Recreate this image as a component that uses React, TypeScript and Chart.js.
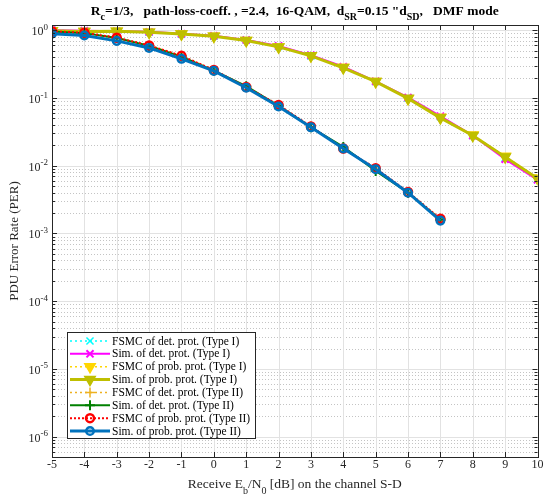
import React, { useEffect, useRef } from 'react';
import { Chart, registerables } from 'chart.js';

Chart.register(...registerables);

// ---------- data ----------
const ebn0TypeI = [-5, -4, -3, -2, -1, 0, 1, 2, 3, 4, 5, 6, 7, 8, 9, 10];
const ebn0TypeII = [-5, -4, -3, -2, -1, 0, 1, 2, 3, 4, 5, 6, 7];

const fsmcDetTypeI = [1.0, 0.98, 0.97, 0.94, 0.88, 0.82, 0.72, 0.58, 0.42, 0.29, 0.176, 0.1, 0.053, 0.028, 0.013, 0.0063];
const simDetTypeI = [1.0, 0.99, 0.97, 0.95, 0.89, 0.83, 0.72, 0.59, 0.43, 0.29, 0.177, 0.102, 0.054, 0.028, 0.0125, 0.0062];
const fsmcProbTypeI = [0.99, 0.96, 0.97, 0.94, 0.88, 0.82, 0.71, 0.57, 0.42, 0.285, 0.175, 0.098, 0.052, 0.0285, 0.0138, 0.0066];
const simProbTypeI = [0.99, 0.96, 0.97, 0.94, 0.88, 0.82, 0.71, 0.57, 0.42, 0.28, 0.175, 0.099, 0.051, 0.028, 0.0135, 0.0065];

const fsmcDetTypeII = [0.97, 0.92, 0.78, 0.6, 0.42, 0.26, 0.146, 0.078, 0.038, 0.018, 0.009, 0.0041, 0.00165];
const simDetTypeII = [0.96, 0.91, 0.77, 0.59, 0.41, 0.255, 0.15, 0.077, 0.037, 0.019, 0.0084, 0.004, 0.0016];
const fsmcProbTypeII = [0.97, 0.92, 0.78, 0.6, 0.42, 0.26, 0.146, 0.079, 0.038, 0.018, 0.0092, 0.0041, 0.00165];
const simProbTypeII = [0.89, 0.84, 0.7, 0.55, 0.38, 0.252, 0.142, 0.075, 0.037, 0.018, 0.0089, 0.004, 0.00155];

const seriesLabels = [
  'FSMC of det. prot. (Type I)',
  'Sim. of det. prot. (Type I)',
  'FSMC of prob. prot. (Type I)',
  'Sim. of prob. prot. (Type I)',
  'FSMC of det. prot. (Type II)',
  'Sim. of det. prot. (Type II)',
  'FSMC of prob. prot. (Type II)',
  'Sim. of prob. prot. (Type II)',
];

const xTickValues = [-5, -4, -3, -2, -1, 0, 1, 2, 3, 4, 5, 6, 7, 8, 9, 10];
const yDecadeExponents = [-6, -5, -4, -3, -2, -1, 0];

const yAxisTitle = 'PDU Error Rate (PER)';

type Seg = { t: string; sub?: boolean; sup?: boolean };
const titleSegs: Seg[] = [
  { t: 'R' }, { t: 'c', sub: true },
  { t: '=1/3,   path-loss-coeff. , =2.4,  16-QAM,  d' }, { t: 'SR', sub: true },
  { t: '=0.15 "d' }, { t: 'SD', sub: true },
  { t: ',   DMF mode' },
];
const xTitleSegs: Seg[] = [
  { t: 'Receive E' }, { t: 'b', sub: true }, { t: '/N' }, { t: '0', sub: true },
  { t: ' [dB] on the channel S-D' },
];

// ---------- styles ----------
const FONT = '"Liberation Serif", "Times New Roman", serif';
const AXIS = '#262626';

const seriesStyles = [
  { color: '#00ffff', dash: [2, 3], width: 1.5, point: 'crossRot', radius: 5, rot: 0, fill: false, pw: 1.5 },
  { color: '#ff00ff', dash: [], width: 2, point: 'crossRot', radius: 5, rot: 0, fill: false, pw: 2 },
  { color: '#ffd600', dash: [2, 3], width: 1.5, point: 'triangle', radius: 6, rot: 180, fill: true, pw: 1.5 },
  { color: '#bfbf00', dash: [], width: 3, point: 'triangle', radius: 6, rot: 180, fill: true, pw: 1.5 },
  { color: '#edb120', dash: [2, 3], width: 1.5, point: 'cross', radius: 5, rot: 0, fill: false, pw: 1.5 },
  { color: '#008000', dash: [], width: 2, point: 'cross', radius: 5, rot: 0, fill: false, pw: 2 },
  { color: '#ff0000', dash: [2, 2], width: 2, point: 'circle', radius: 4, rot: 0, fill: false, pw: 2.5 },
  { color: '#0072bd', dash: [], width: 3, point: 'circle', radius: 3.8, rot: 0, fill: false, pw: 2.5 },
];

const seriesData = [
  [ebn0TypeI, fsmcDetTypeI],
  [ebn0TypeI, simDetTypeI],
  [ebn0TypeI, fsmcProbTypeI],
  [ebn0TypeI, simProbTypeI],
  [ebn0TypeII, fsmcDetTypeII],
  [ebn0TypeII, simDetTypeII],
  [ebn0TypeII, fsmcProbTypeII],
  [ebn0TypeII, simProbTypeII],
];

function drawRich(ctx: CanvasRenderingContext2D, segs: Seg[], x: number, y: number, size: number, bold: boolean, align: 'left' | 'center' | 'right', color: string, subDrop: number) {
  const b = bold ? 'bold ' : '';
  const base = `${b}${size}px ${FONT}`;
  const small = `${b}${Math.round(size * 0.75)}px ${FONT}`;
  let total = 0;
  const widths = segs.map((s) => {
    ctx.font = s.sub || s.sup ? small : base;
    const w = ctx.measureText(s.t).width;
    total += w;
    return w;
  });
  let cx = align === 'center' ? x - total / 2 : align === 'right' ? x - total : x;
  ctx.textAlign = 'left';
  ctx.textBaseline = 'alphabetic';
  ctx.fillStyle = color;
  segs.forEach((s, i) => {
    ctx.font = s.sub || s.sup ? small : base;
    const dy = s.sub ? subDrop : s.sup ? -size * 0.45 : 0;
    ctx.fillText(s.t, cx, y + dy);
    cx += widths[i];
  });
}

function drawMarker(ctx: CanvasRenderingContext2D, st: any, x: number, y: number) {
  const r = st.radius;
  ctx.save();
  ctx.setLineDash([]);
  ctx.strokeStyle = st.color;
  ctx.fillStyle = st.color;
  ctx.lineWidth = st.pw;
  ctx.beginPath();
  if (st.point === 'crossRot') {
    const d = r * Math.SQRT1_2;
    ctx.moveTo(x - d, y - d); ctx.lineTo(x + d, y + d);
    ctx.moveTo(x + d, y - d); ctx.lineTo(x - d, y + d);
    ctx.stroke();
  } else if (st.point === 'cross') {
    ctx.moveTo(x - r, y); ctx.lineTo(x + r, y);
    ctx.moveTo(x, y - r); ctx.lineTo(x, y + r);
    ctx.stroke();
  } else if (st.point === 'triangle') {
    ctx.moveTo(x, y + r);
    ctx.lineTo(x - r * 0.866, y - r / 2);
    ctx.lineTo(x + r * 0.866, y - r / 2);
    ctx.closePath();
    ctx.fill();
    ctx.stroke();
  } else {
    ctx.arc(x, y, r, 0, Math.PI * 2);
    ctx.stroke();
  }
  ctx.restore();
}

const matlabPlugin = {
  id: 'matlabAxes',
  beforeDatasetsDraw(chart: any) {
    const { ctx, chartArea: a, scales } = chart;
    const xs = scales.x, ys = scales.y;
    ctx.save();
    ctx.beginPath();
    ctx.rect(a.left, a.top, a.right - a.left, a.bottom - a.top);
    ctx.clip();
    // minor dotted y grid
    ctx.strokeStyle = '#c4c4c4';
    ctx.lineWidth = 1;
    ctx.setLineDash([1, 2]);
    for (let e = -7; e <= 0; e++) {
      for (let k = 2; k <= 9; k++) {
        const v = k * Math.pow(10, e);
        if (v <= ys.min || v >= ys.max) continue;
        const py = Math.round(ys.getPixelForValue(v)) + 0.5;
        ctx.beginPath(); ctx.moveTo(a.left, py); ctx.lineTo(a.right, py); ctx.stroke();
      }
    }
    ctx.setLineDash([]);
    ctx.strokeStyle = '#e2e2e2';
    for (const e of yDecadeExponents) {
      const py = Math.round(ys.getPixelForValue(Math.pow(10, e))) + 0.5;
      ctx.beginPath(); ctx.moveTo(a.left, py); ctx.lineTo(a.right, py); ctx.stroke();
    }
    for (const v of xTickValues) {
      const px = Math.round(xs.getPixelForValue(v)) + 0.5;
      ctx.beginPath(); ctx.moveTo(px, a.top); ctx.lineTo(px, a.bottom); ctx.stroke();
    }
    ctx.restore();
  },
  afterDraw(chart: any) {
    const { ctx, chartArea: a, scales } = chart;
    const xs = scales.x, ys = scales.y;
    ctx.save();
    // box
    ctx.strokeStyle = AXIS;
    ctx.lineWidth = 1;
    ctx.setLineDash([]);
    ctx.strokeRect(Math.round(a.left) + 0.5, Math.round(a.top) + 0.5, Math.round(a.right - a.left), Math.round(a.bottom - a.top));
    // x ticks (inside, bottom & top)
    ctx.beginPath();
    for (const v of xTickValues) {
      const px = Math.round(xs.getPixelForValue(v)) + 0.5;
      ctx.moveTo(px, a.bottom); ctx.lineTo(px, a.bottom - 5);
      ctx.moveTo(px, a.top); ctx.lineTo(px, a.top + 5);
    }
    // y ticks
    for (let e = -7; e <= 0; e++) {
      for (let k = 1; k <= 9; k++) {
        const v = k * Math.pow(10, e);
        if (v < ys.min || v > ys.max) continue;
        const len = k === 1 ? 5 : 3;
        const py = Math.round(ys.getPixelForValue(v)) + 0.5;
        ctx.moveTo(a.left, py); ctx.lineTo(a.left + len, py);
        ctx.moveTo(a.right, py); ctx.lineTo(a.right - len, py);
      }
    }
    ctx.stroke();

    // y tick labels
    ctx.fillStyle = AXIS;
    for (const e of yDecadeExponents) {
      const py = ys.getPixelForValue(Math.pow(10, e));
      const expStr = String(e);
      ctx.font = `9px ${FONT}`;
      const ew = ctx.measureText(expStr).width;
      ctx.textAlign = 'right';
      ctx.textBaseline = 'alphabetic';
      ctx.fillText(expStr, 48, py - 0.5);
      ctx.font = `12px ${FONT}`;
      ctx.fillText('10', 48 - ew, py + 5);
    }

    // titles
    drawRich(ctx, titleSegs, (a.left + a.right) / 2, 15, 13.5, true, 'center', '#000', 5);
    drawRich(ctx, xTitleSegs, (a.left + a.right) / 2, 488, 13.5, false, 'center', AXIS, 5.5);
    ctx.save();
    ctx.translate(18, (a.top + a.bottom) / 2);
    ctx.rotate(-Math.PI / 2);
    ctx.font = `13px ${FONT}`;
    ctx.textAlign = 'center';
    ctx.textBaseline = 'alphabetic';
    ctx.fillStyle = AXIS;
    ctx.fillText(yAxisTitle, 0, 0);
    ctx.restore();

    // legend
    const lx = 67.5, ly = 332.5, lw = 188, lh = 106;
    ctx.fillStyle = '#fff';
    ctx.fillRect(lx, ly, lw, lh);
    ctx.strokeStyle = AXIS;
    ctx.lineWidth = 1;
    ctx.strokeRect(lx, ly, lw, lh);
    seriesLabels.forEach((label, i) => {
      const st = seriesStyles[i];
      const cy = 341 + i * 12.86;
      ctx.save();
      ctx.strokeStyle = st.color;
      ctx.lineWidth = st.width;
      ctx.setLineDash(st.dash);
      ctx.beginPath(); ctx.moveTo(70, cy); ctx.lineTo(110, cy); ctx.stroke();
      ctx.restore();
      drawMarker(ctx, st, 90, cy);
      ctx.font = `11.5px ${FONT}`;
      ctx.fillStyle = '#000';
      ctx.textAlign = 'left';
      ctx.textBaseline = 'middle';
      ctx.fillText(label, 112, cy + 0.5);
    });
    ctx.restore();
  },
};

export default function App() {
  const ref = useRef<HTMLCanvasElement | null>(null);
  useEffect(() => {
    if (!ref.current) return;
    const n = seriesData.length;
    const datasets = seriesData.map(([xsArr, ysArr], i) => {
      const st = seriesStyles[i];
      return {
        label: seriesLabels[i],
        data: xsArr.map((x, j) => ({ x, y: ysArr[j] })),
        order: n - 1 - i,
        borderColor: st.color,
        backgroundColor: st.color,
        borderWidth: st.width,
        borderDash: st.dash,
        pointStyle: st.point,
        pointRadius: st.radius,
        pointRotation: st.rot,
        pointBorderWidth: st.pw,
        pointBorderColor: st.color,
        pointBackgroundColor: st.fill ? st.color : 'transparent',
        fill: false,
        tension: 0,
      };
    });
    const chart = new Chart(ref.current, {
      type: 'line',
      data: { datasets } as any,
      options: {
        animation: false,
        responsive: true,
        maintainAspectRatio: false,
        layout: { padding: { top: 25, right: 6, left: 0, bottom: 0 } },
        plugins: {
          legend: { display: false },
          title: { display: false },
          tooltip: { enabled: false },
        },
        scales: {
          x: {
            type: 'linear',
            min: -5,
            max: 10,
            grid: { display: false, drawTicks: false },
            border: { display: false },
            ticks: {
              stepSize: 1,
              autoSkip: false,
              maxRotation: 0,
              padding: 1,
              color: AXIS,
              font: { family: FONT, size: 12 },
            },
            afterFit: (s: any) => { s.height = 40; s.paddingRight = 0; s.paddingLeft = 0; },
          },
          y: {
            type: 'logarithmic',
            min: 5e-7,
            max: 1.2,
            grid: { display: false, drawTicks: false },
            border: { display: false },
            ticks: { display: false },
            afterFit: (s: any) => { s.width = 52; s.paddingTop = 0; s.paddingBottom = 0; },
          },
        },
      } as any,
      plugins: [matlabPlugin],
    });
    return () => chart.destroy();
  }, []);
  return (
    <div style={{ position: 'fixed', left: 0, top: 0, width: 545, height: 497, background: '#fff' }}>
      <canvas ref={ref} />
    </div>
  );
}
